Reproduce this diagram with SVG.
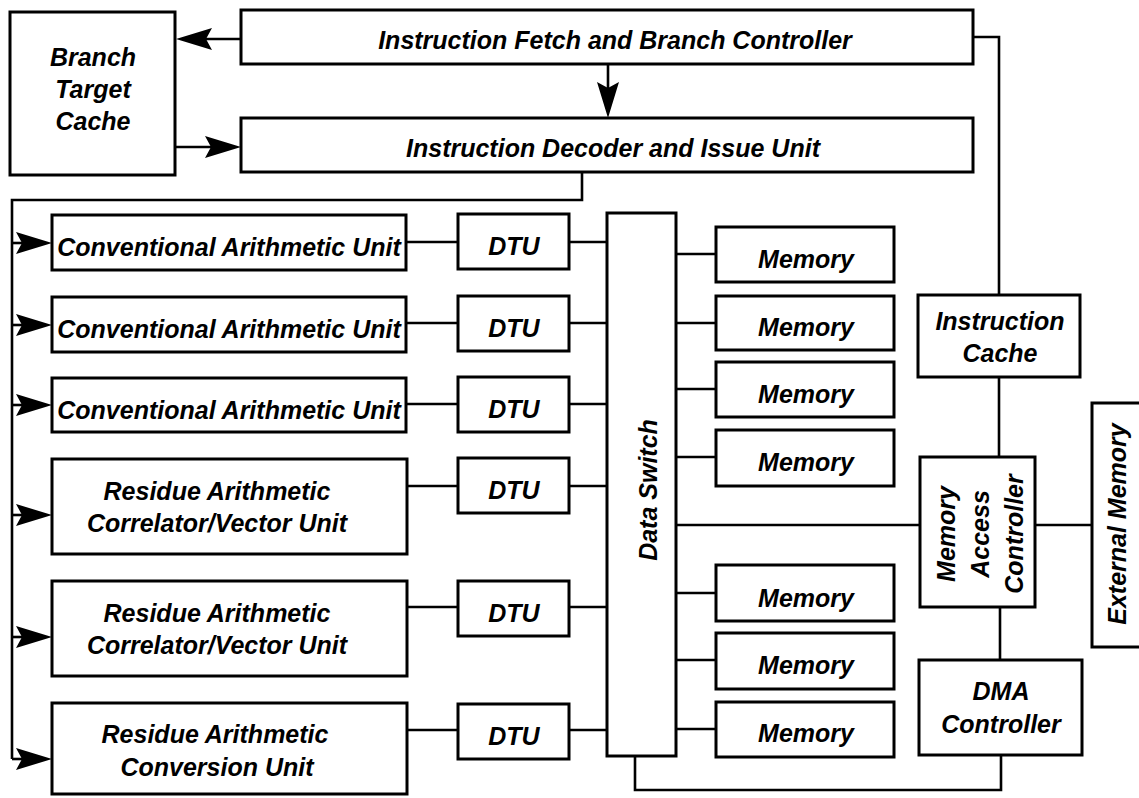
<svg xmlns="http://www.w3.org/2000/svg" width="1139" height="798" viewBox="0 0 1139 798">
  <style>
    .box { fill: #fff; stroke: #000; stroke-width: 3; }
    .wire { fill: none; stroke: #000; stroke-width: 2.6; }
    .lbl { font-family: "Liberation Sans", Arial, sans-serif; font-weight: bold; font-style: italic; font-size: 25px; fill: #000; text-anchor: middle; }
  </style>
  <defs>
    <!-- notched filled arrowhead; tip sits 10px past the line end -->
    <marker id="arrow" markerUnits="userSpaceOnUse" viewBox="-30 -13 44 26" markerWidth="44" markerHeight="26" refX="0" refY="0" orient="auto">
      <path d="M10,0 L-26,-11 L-20,0 L-26,11 Z" fill="#000"/>
    </marker>
  </defs>
  <rect width="1139" height="798" fill="#fff"/>

  <g id="connectors">
    <line class="wire" x1="241" y1="39" x2="186" y2="39" marker-end="url(#arrow)"/>
    <line class="wire" x1="608" y1="64" x2="608" y2="108" marker-end="url(#arrow)"/>
    <line class="wire" x1="175" y1="147" x2="231" y2="147" marker-end="url(#arrow)"/>
    <polyline class="wire" points="582,172 582,200 12,200 12,759"/>
    <line class="wire" x1="12" y1="243" x2="42" y2="243" marker-end="url(#arrow)"/>
    <line class="wire" x1="12" y1="325" x2="42" y2="325" marker-end="url(#arrow)"/>
    <line class="wire" x1="12" y1="405" x2="42" y2="405" marker-end="url(#arrow)"/>
    <line class="wire" x1="12" y1="515" x2="42" y2="515" marker-end="url(#arrow)"/>
    <line class="wire" x1="12" y1="637" x2="42" y2="637" marker-end="url(#arrow)"/>
    <line class="wire" x1="12" y1="759" x2="42" y2="759" marker-end="url(#arrow)"/>
    <!-- units to DTUs -->
    <line class="wire" x1="406" y1="242" x2="458" y2="242"/>
    <line class="wire" x1="406" y1="323" x2="458" y2="323"/>
    <line class="wire" x1="406" y1="404" x2="458" y2="404"/>
    <line class="wire" x1="407" y1="486" x2="458" y2="486"/>
    <line class="wire" x1="407" y1="607" x2="458" y2="607"/>
    <line class="wire" x1="407" y1="730" x2="458" y2="730"/>
    <!-- DTUs to data switch -->
    <line class="wire" x1="569" y1="242" x2="607" y2="242"/>
    <line class="wire" x1="569" y1="323" x2="607" y2="323"/>
    <line class="wire" x1="569" y1="404" x2="607" y2="404"/>
    <line class="wire" x1="569" y1="486" x2="607" y2="486"/>
    <line class="wire" x1="569" y1="607" x2="607" y2="607"/>
    <line class="wire" x1="569" y1="730" x2="607" y2="730"/>
    <!-- data switch to memories -->
    <line class="wire" x1="676" y1="254" x2="716" y2="254"/>
    <line class="wire" x1="676" y1="323" x2="716" y2="323"/>
    <line class="wire" x1="676" y1="389" x2="716" y2="389"/>
    <line class="wire" x1="676" y1="457" x2="716" y2="457"/>
    <line class="wire" x1="676" y1="593" x2="716" y2="593"/>
    <line class="wire" x1="676" y1="660" x2="716" y2="660"/>
    <line class="wire" x1="676" y1="729" x2="716" y2="729"/>
    <!-- memory side -->
    <line class="wire" x1="676" y1="525" x2="920" y2="525"/>
    <line class="wire" x1="1035" y1="525" x2="1092" y2="525"/>
    <polyline class="wire" points="973,37 999,37 999,295"/>
    <line class="wire" x1="999" y1="377" x2="999" y2="457"/>
    <line class="wire" x1="1000" y1="607" x2="1000" y2="660"/>
    <polyline class="wire" points="635,756 635,790 1001,790 1001,755"/>
  </g>

  <g id="branch-target-cache">
    <rect class="box" x="10" y="12" width="165" height="163"/>
    <text class="lbl" x="93" y="66">Branch</text>
    <text class="lbl" x="93" y="98">Target</text>
    <text class="lbl" x="93" y="130">Cache</text>
  </g>
  <g id="fetch-branch-controller">
    <rect class="box" x="241" y="10" width="732" height="54"/>
    <text class="lbl" x="615" y="49">Instruction Fetch and Branch Controller</text>
  </g>
  <g id="decoder-issue-unit">
    <rect class="box" x="241" y="118" width="732" height="54"/>
    <text class="lbl" x="613" y="157">Instruction Decoder and Issue Unit</text>
  </g>

  <g id="conv-unit-1">
    <rect class="box" x="52" y="215" width="354" height="55"/>
    <text class="lbl" x="229" y="256">Conventional Arithmetic Unit</text>
  </g>
  <g id="conv-unit-2">
    <rect class="box" x="52" y="297" width="354" height="55"/>
    <text class="lbl" x="229" y="338">Conventional Arithmetic Unit</text>
  </g>
  <g id="conv-unit-3">
    <rect class="box" x="52" y="378" width="354" height="54"/>
    <text class="lbl" x="229" y="419">Conventional Arithmetic Unit</text>
  </g>
  <g id="residue-vector-1">
    <rect class="box" x="52" y="459" width="355" height="95"/>
    <text class="lbl" x="217" y="500">Residue Arithmetic</text>
    <text class="lbl" x="217" y="532">Correlator/Vector Unit</text>
  </g>
  <g id="residue-vector-2">
    <rect class="box" x="52" y="581" width="355" height="95"/>
    <text class="lbl" x="217" y="622">Residue Arithmetic</text>
    <text class="lbl" x="217" y="654">Correlator/Vector Unit</text>
  </g>
  <g id="residue-conversion">
    <rect class="box" x="52" y="703" width="355" height="91"/>
    <text class="lbl" x="215" y="743">Residue Arithmetic</text>
    <text class="lbl" x="217" y="776">Conversion Unit</text>
  </g>

  <g id="dtu-1"><rect class="box" x="458" y="214" width="111" height="55"/><text class="lbl" x="514" y="255">DTU</text></g>
  <g id="dtu-2"><rect class="box" x="458" y="296" width="111" height="55"/><text class="lbl" x="514" y="337">DTU</text></g>
  <g id="dtu-3"><rect class="box" x="458" y="377" width="111" height="55"/><text class="lbl" x="514" y="418">DTU</text></g>
  <g id="dtu-4"><rect class="box" x="458" y="458" width="111" height="55"/><text class="lbl" x="514" y="499">DTU</text></g>
  <g id="dtu-5"><rect class="box" x="458" y="581" width="111" height="55"/><text class="lbl" x="514" y="622">DTU</text></g>
  <g id="dtu-6"><rect class="box" x="458" y="704" width="111" height="55"/><text class="lbl" x="514" y="745">DTU</text></g>

  <g id="data-switch">
    <rect class="box" x="607" y="213" width="69" height="543"/>
    <text class="lbl" transform="translate(657,490) rotate(-90)">Data Switch</text>
  </g>

  <g id="memory-1"><rect class="box" x="716" y="227" width="178" height="55"/><text class="lbl" x="806" y="268">Memory</text></g>
  <g id="memory-2"><rect class="box" x="716" y="296" width="178" height="54"/><text class="lbl" x="806" y="336">Memory</text></g>
  <g id="memory-3"><rect class="box" x="716" y="362" width="178" height="55"/><text class="lbl" x="806" y="403">Memory</text></g>
  <g id="memory-4"><rect class="box" x="716" y="430" width="178" height="56"/><text class="lbl" x="806" y="471">Memory</text></g>
  <g id="memory-5"><rect class="box" x="716" y="565" width="178" height="56"/><text class="lbl" x="806" y="607">Memory</text></g>
  <g id="memory-6"><rect class="box" x="716" y="633" width="178" height="56"/><text class="lbl" x="806" y="674">Memory</text></g>
  <g id="memory-7"><rect class="box" x="716" y="702" width="178" height="55"/><text class="lbl" x="806" y="742">Memory</text></g>

  <g id="instruction-cache">
    <rect class="box" x="918" y="295" width="162" height="82"/>
    <text class="lbl" x="1000" y="330">Instruction</text>
    <text class="lbl" x="1000" y="362">Cache</text>
  </g>
  <g id="memory-access-controller">
    <rect class="box" x="920" y="457" width="115" height="150"/>
    <text class="lbl" transform="translate(955,534) rotate(-90)">Memory</text>
    <text class="lbl" transform="translate(989,534) rotate(-90)">Access</text>
    <text class="lbl" transform="translate(1023,534) rotate(-90)">Controller</text>
  </g>
  <g id="dma-controller">
    <rect class="box" x="919" y="660" width="163" height="95"/>
    <text class="lbl" x="1001" y="700">DMA</text>
    <text class="lbl" x="1001" y="733">Controller</text>
  </g>
  <g id="external-memory">
    <rect class="box" x="1092" y="403" width="60" height="244"/>
    <text class="lbl" transform="translate(1126,524) rotate(-90)">External Memory</text>
  </g>
</svg>
